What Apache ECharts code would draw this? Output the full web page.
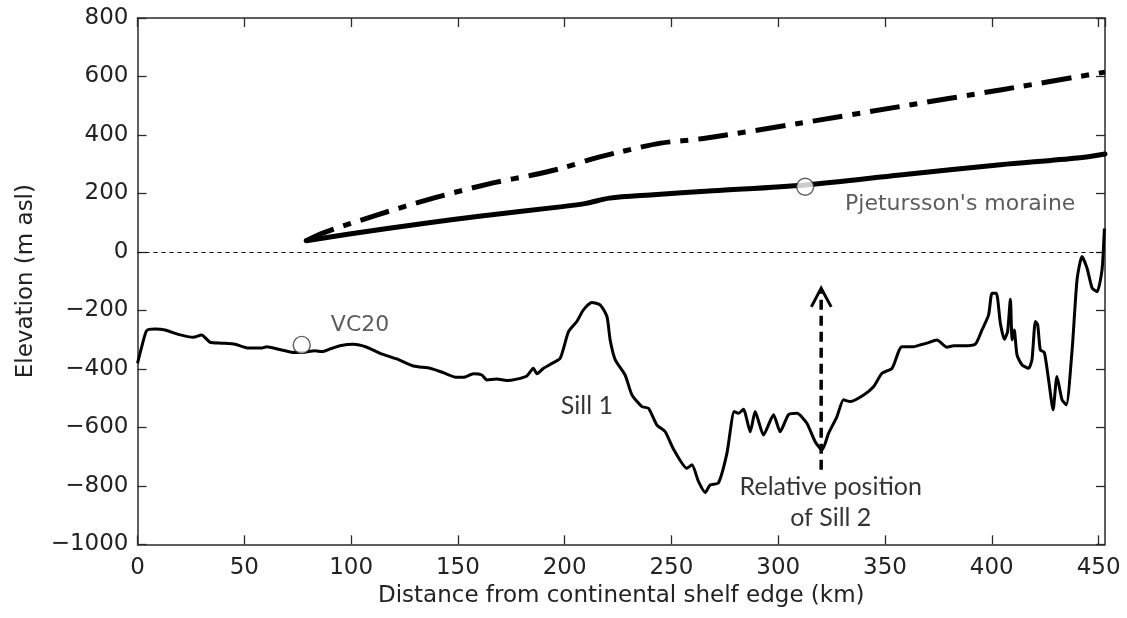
<!DOCTYPE html>
<html>
<head>
<meta charset="utf-8">
<script src="https://cdn.jsdelivr.net/npm/echarts@6/dist/echarts.min.js"></script>
<style>html,body{margin:0;padding:0;background:#fff;}#c{width:1127px;height:618px;}</style>
</head>
<body>
<div id="c"></div>
<script>
// Seafloor profile (distance km, elevation m asl)
const bathyX = [0,2,4.3,8.2,12.9,19.1,26.1,30,34,39.4,45.7,51.9,58.2,60.5,66,72.2,76.9,83.1,86.3,90.5,94.8,101.1,107.4,113.6,121.4,129.2,137,143.2,149.5,152.6,157.3,161.2,163.6,168.2,172.9,177.6,182.3,185.4,187,190.1,193.2,197.9,201.8,205.7,208.8,212.7,216.6,219.8,221.3,223.7,228.3,231.5,236.2,239.3,243.2,247.1,251,257.2,259.6,262.7,265.8,268.1,272,276,279.4,281.4,283.7,286.9,289.2,293.1,297.8,300.9,304.8,308.8,313.4,317.3,320.5,323.6,327.5,330.6,333.7,340,344.6,348.6,353.3,357.9,363.4,366.5,369.6,374.3,379,382.1,386.8,392.3,395.4,398.5,400.1,402.1,404,405.9,407.4,408.7,409.5,410.5,411.8,414.1,417.2,418.8,420.4,421.5,422.7,424.6,426.6,428.7,430.5,432.9,434.9,437.6,439.9,442.2,444.6,447,449.3,451.6,452.7];
const bathyY = [-381,-324,-269,-264,-267,-282,-292,-284,-309,-312,-316,-329,-329,-324,-333,-343,-344,-338,-341,-331,-321,-316,-326,-347,-366,-390,-398,-413,-429,-429,-417,-421,-438,-435,-440,-435,-424,-398,-417,-398,-385,-364,-273,-238,-198,-173,-181,-221,-301,-369,-421,-489,-529,-535,-592,-615,-675,-740,-728,-786,-823,-797,-790,-688,-546,-552,-538,-615,-546,-626,-557,-615,-557,-552,-586,-649,-677,-620,-563,-506,-512,-489,-461,-415,-398,-324,-324,-318,-312,-301,-326,-321,-321,-315,-267,-215,-141,-141,-244,-299,-272,-162,-301,-267,-352,-386,-398,-369,-238,-250,-335,-344,-438,-540,-426,-506,-523,-335,-96,-16,-56,-124,-136,-62,80];
// Lower (solid) ice surface profile
const iceLowX = [79,100,135.6,160,197.9,210,221,240,269.5,312.6,357,404,440,453];
const iceLowY = [38,62,99,122,154,166,184,195,209,229,263,298,321,335];
// Upper (dash-dot) ice surface profile
const iceHighX = [79,87,112,138.5,166.5,185,199,213,226,245,265,310,357,404,453];
const iceHighY = [38,65,126,184,236,263,287,318,342,372,388,440,497,554,615];
// Sample sites (open circles)
const siteX = [76.9, 312.6];
const siteY = [-318, 223];
// Annotation texts and anchor points
const labelText = ['VC20', "Pjetursson's moraine", 'Sill 1', 'Relative position\nof Sill 2'];
const labelX = [104.2, 385.2, 210.4, 324.6];
const labelY = [-250, 164, -527, -858];
// Arrow marking Sill 2
const arrowShaftX = [320.1, 320.1];
const arrowShaftY = [-745, -135];
const arrowHeadX = [315.5, 320.1, 324.8];
const arrowHeadY = [-188, -124, -188];
// Axes
const xMin = 0, xMax = 453, xStep = 50;
const yMin = -1000, yMax = 800, yStep = 200;

const zip = (a, b) => a.map((v, i) => [v, b[i]]);
const chart = echarts.init(document.getElementById('c'), null, {renderer: 'canvas'});
const axisCol = '#2a2a2a';
const font = 'DejaVu Sans';
const baseX = {
  type: 'value', min: xMin, max: xMax, interval: xStep,
  axisLine: {show: true, onZero: false, lineStyle: {color: axisCol, width: 1.5}},
  axisTick: {show: true, inside: true, length: 9, lineStyle: {color: axisCol, width: 1.3}},
  splitLine: {show: false}
};
const baseY = {
  type: 'value', min: yMin, max: yMax, interval: yStep,
  axisLine: {show: true, onZero: false, lineStyle: {color: axisCol, width: 1.5}},
  axisTick: {show: true, inside: true, length: 9, lineStyle: {color: axisCol, width: 1.3}},
  splitLine: {show: false}
};
const option = {
  backgroundColor: '#fff',
  animation: false,
  grid: {left: 137.5, right: 22, top: 18, bottom: 73.7, containLabel: false},
  xAxis: [
    Object.assign({}, baseX, {
      position: 'bottom',
      name: 'Distance from continental shelf edge (km)', nameLocation: 'middle', nameGap: 32,
      nameTextStyle: {fontFamily: font, fontSize: 23, color: '#222'},
      axisLabel: {show: true, margin: 12, fontFamily: font, fontSize: 23, color: '#222', showMaxLabel: false,
        formatter: v => (v % xStep === 0 ? String(v) : '')}
    }),
    Object.assign({}, baseX, {position: 'top', axisLabel: {show: false}})
  ],
  yAxis: [
    Object.assign({}, baseY, {
      position: 'left',
      name: 'Elevation (m asl)', nameLocation: 'middle', nameGap: 100, nameRotate: 90,
      nameTextStyle: {fontFamily: font, fontSize: 23, color: '#222'},
      axisLabel: {show: true, margin: 9, fontFamily: font, fontSize: 23, color: '#222',
        formatter: v => String(v).replace('-', '\u2212')}
    }),
    Object.assign({}, baseY, {position: 'right', axisLabel: {show: false}})
  ],
  series: [
    {
      type: 'line', name: 'seafloor', data: zip(bathyX, bathyY), showSymbol: false, symbol: 'none',
      smooth: 0.2,
      lineStyle: {color: '#000', width: 3, join: 'round'}, z: 3,
      markLine: {
        silent: true, symbol: ['none', 'none'], label: {show: false},
        lineStyle: {color: '#000', width: 1, type: [4, 4]},
        data: [{yAxis: 0}]
      }
    },
    {
      type: 'line', name: 'ice1', data: zip(iceLowX, iceLowY), showSymbol: false, symbol: 'none',
      smooth: 0.3,
      lineStyle: {color: '#000', width: 5, join: 'round', cap: 'round'}, z: 3
    },
    {
      type: 'line', name: 'ice2', data: zip(iceHighX, iceHighY), showSymbol: false, symbol: 'none',
      smooth: 0.3,
      lineStyle: {color: '#000', width: 5, type: [30, 10, 8, 10], join: 'round'}, z: 3
    },
    {
      type: 'line', name: 'arrowShaft', data: zip(arrowShaftX, arrowShaftY), showSymbol: false, symbol: 'none',
      lineStyle: {color: '#000', width: 3.5, type: [10, 6]}, z: 4
    },
    {
      type: 'line', name: 'arrowHead', data: zip(arrowHeadX, arrowHeadY), showSymbol: false, symbol: 'none',
      lineStyle: {color: '#000', width: 3, join: 'miter'}, z: 4
    },
    {
      type: 'scatter', name: 'sites', data: zip(siteX, siteY), symbol: 'circle', symbolSize: 17,
      itemStyle: {color: '#fff', borderColor: '#333', borderWidth: 1.4}, z: 5
    },
    {
      type: 'scatter', name: 'labels', symbolSize: 0, z: 6, silent: true,
      data: labelText.map((t, i) => ({
        name: t, value: [labelX[i], labelY[i]],
        label: i < 2
          ? {show: true, position: 'inside', formatter: '{b}', fontFamily: font, fontSize: 22, color: '#333'}
          : {show: true, position: 'inside', formatter: '{b}', fontFamily: 'Lato', fontSize: 25, color: '#000', lineHeight: 31, align: 'center'}
      }))
    }
  ]
};
chart.setOption(option);
</script>
</body>
</html>
